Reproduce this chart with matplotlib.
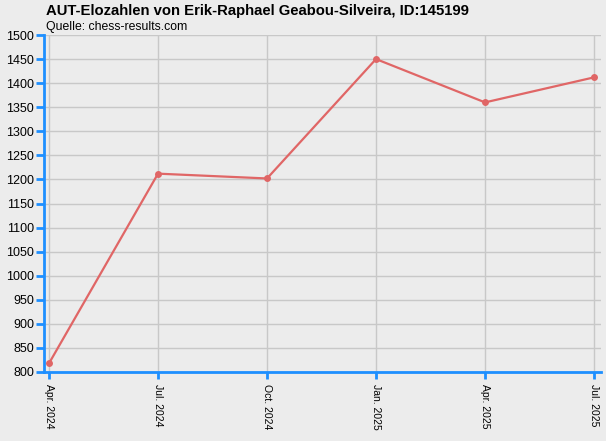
import matplotlib
matplotlib.use('Agg')
import matplotlib.pyplot as plt

FONT = 'Liberation Sans'
BG = '#ececec'
BLUE = '#1e8fff'
LINE = '#e06666'
GRID = '#c8c8c8'

dates = ['Apr. 2024', 'Jul. 2024', 'Oct. 2024', 'Jan. 2025', 'Apr. 2025', 'Jul. 2025']
elo = [818, 1212, 1202, 1450, 1360, 1412]
y_ticks = list(range(800, 1501, 50))

W, H = 606, 441
fig = plt.figure(figsize=(W / 100, H / 100), dpi=100)
fig.patch.set_facecolor(BG)
ax = fig.add_axes([44 / W, (H - 372) / H, 557 / W, 337 / H])
ax.set_facecolor(BG)

x = list(range(len(dates)))
ax.plot(x, elo, color=LINE, linewidth=1.6, marker='o', markersize=5,
        markeredgewidth=0, zorder=3)

ax.set_xlim(-0.046, 5.064)
ax.set_ylim(800, 1500)
ax.set_yticks(y_ticks)
ax.set_yticklabels([str(v) for v in y_ticks], fontfamily=FONT, fontsize=9)
ax.set_xticks(x)
ax.set_xticklabels(dates, rotation=270, fontfamily=FONT, fontsize=7.5,
                   ha='center', va='top')

ax.grid(True, color=GRID, linewidth=1, zorder=0)
for side in ['top', 'right']:
    ax.spines[side].set_visible(False)
for side in ['left', 'bottom']:
    ax.spines[side].set_color(BLUE)
    ax.spines[side].set_linewidth(2)
ax.tick_params(axis='both', colors=BLUE, width=2, length=6, labelcolor='black')
ax.tick_params(axis='x', length=5, pad=4)
ax.tick_params(axis='y', pad=1)

fig.text(46 / W, 1 - 11 / H, 'AUT-Elozahlen von Erik-Raphael Geabou-Silveira, ID:145199',
         fontfamily=FONT, fontsize=10.7, fontweight='bold', va='center', ha='left')
fig.text(46 / W, 1 - 27 / H, 'Quelle: chess-results.com',
         fontfamily=FONT, fontsize=8.8, va='center', ha='left')

fig.savefig('out.png', dpi=100, facecolor=BG)
